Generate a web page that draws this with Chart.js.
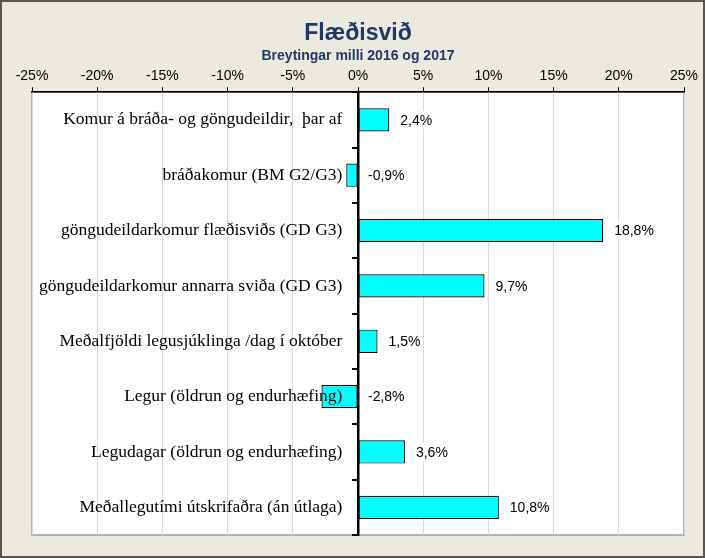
<!DOCTYPE html>
<html>
<head>
<meta charset="utf-8">
<script src="https://cdn.jsdelivr.net/npm/chart.js@4/dist/chart.umd.min.js"></script>
<style>
  body { margin: 0; background: #ECE9DF; }
  canvas { display: block; }
</style>
</head>
<body>
<canvas id="bar-chart" width="705" height="558"></canvas>
<script>
// categories and values
var categories = [
    "Komur á bráða- og göngudeildir,  þar af",
    "bráðakomur (BM G2/G3)",
    "göngudeildarkomur flæðisviðs (GD G3)",
    "göngudeildarkomur annarra sviða (GD G3)",
    "Meðalfjöldi legusjúklinga /dag í október",
    "Legur (öldrun og endurhæfing)",
    "Legudagar (öldrun og endurhæfing)",
    "Meðallegutími útskrifaðra (án útlaga)"
];
var changes = [2.4, -0.9, 18.8, 9.7, 1.5, -2.8, 3.6, 10.8];
var xTicks = [-25, -20, -15, -10, -5, 0, 5, 10, 15, 20, 25];

var ctx = document.getElementById('bar-chart').getContext('2d');

// beige frame and white plot area
var framePlugin = {
    id: 'frame',
    beforeDraw: function(chart) {
        var c = chart.ctx;
        var a = chart.chartArea;
        c.save();
        c.fillStyle = '#ECE9DF';
        c.fillRect(0, 0, chart.width, chart.height);
        c.strokeStyle = '#555555';
        c.lineWidth = 2;
        c.strokeRect(1, 1, chart.width - 2, chart.height - 2);
        c.fillStyle = '#ffffff';
        c.fillRect(a.left, a.top, a.right - a.left, a.bottom - a.top);
        c.strokeStyle = '#a0a0a0';
        c.lineWidth = 1.5;
        c.strokeRect(a.left, a.top, a.right - a.left, a.bottom - a.top);
        c.restore();
    }
};

// value labels next to bars
var valueLabels = {
    id: 'valueLabels',
    afterDatasetsDraw: function(chart) {
        var c = chart.ctx;
        var xs = chart.scales.x;
        var meta = chart.getDatasetMeta(0);
        c.save();
        c.font = '14px "Liberation Sans", Arial, sans-serif';
        c.textBaseline = 'middle';
        meta.data.forEach(function(bar, i) {
            var v = changes[i];
            var text = v.toFixed(1).replace('.', ',') + '%';
            var x = xs.getPixelForValue(Math.max(v, 0)) + (v < 0 ? 10 : 11);
            var w = c.measureText(text).width;
            c.fillStyle = '#ffffff';
            c.fillRect(x - 2, bar.y - 9, w + 4, 18);
            c.fillStyle = '#000000';
            c.fillText(text, x, bar.y + 1);
        });
        c.restore();
    }
};

var myChart = new Chart(ctx, {
    type: 'bar',
    data: {
        labels: categories,
        datasets: [{
            data: changes,
            backgroundColor: '#00FFFF',
            borderColor: '#000000',
            borderWidth: 1.2,
            borderSkipped: false,
            categoryPercentage: 1,
            barPercentage: 0.42
        }]
    },
    options: {
        indexAxis: 'y',
        responsive: false,
        animation: false,
        layout: {
            padding: { left: 32, right: 21, bottom: 23, top: 18 }
        },
        plugins: {
            legend: { display: false },
            tooltip: { enabled: false },
            title: {
                display: true,
                text: 'Flæðisvið',
                color: '#1F3864',
                fullSize: false,
                font: { family: '"Liberation Sans", Arial, sans-serif', size: 23, weight: 'bold' },
                padding: { top: 2, bottom: 0 }
            },
            subtitle: {
                display: true,
                text: 'Breytingar milli 2016 og 2017',
                color: '#1F3864',
                fullSize: false,
                font: { family: '"Liberation Sans", Arial, sans-serif', size: 14, weight: 'bold' },
                padding: { top: 0, bottom: 0 }
            }
        },
        scales: {
            x: {
                type: 'linear',
                position: 'top',
                min: -25,
                max: 25,
                afterBuildTicks: function(scale) {
                    scale.ticks = xTicks.map(function(v) { return { value: v }; });
                },
                ticks: {
                    color: '#000000',
                    padding: 3,
                    font: { family: '"Liberation Sans", Arial, sans-serif', size: 14 },
                    callback: function(v) { return v + '%'; }
                },
                grid: {
                    color: '#d9d9d9',
                    tickColor: '#000000',
                    tickLength: 5,
                    lineWidth: 1
                },
                border: { color: '#000000', width: 1.5 }
            },
            // zero line with tick marks
            y: {
                position: { x: 0 },
                ticks: { display: false },
                grid: {
                    drawOnChartArea: false,
                    drawTicks: true,
                    tickLength: 5,
                    color: '#000000',
                    lineWidth: 2
                },
                border: { color: '#000000', width: 2.5, z: 1 }
            },
            // category names, just left of the zero line
            yLabels: {
                type: 'category',
                axis: 'y',
                labels: categories,
                offset: true,
                position: { x: -1.2 },
                ticks: {
                    z: 1,
                    color: '#000000',
                    font: { family: '"Liberation Serif", "Times New Roman", serif', size: 17.5 }
                },
                grid: { display: false, drawTicks: false },
                border: { display: false }
            }
        }
    },
    plugins: [framePlugin, valueLabels]
});
</script>
</body>
</html>
